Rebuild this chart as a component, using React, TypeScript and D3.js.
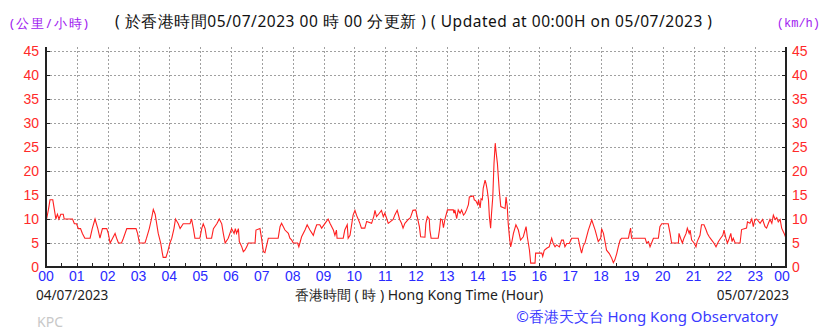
import React, { useEffect, useRef } from "react";
import * as d3 from "d3";

const hours: number[] = [
  0, 0.02, 0.08, 0.13, 0.22, 0.27, 0.32, 0.37, 0.42, 0.48, 0.56, 0.59, 0.86, 0.92, 0.99, 1.05, 1.12, 1.18, 1.26, 1.43,
  1.5, 1.59, 1.68, 1.75, 1.83, 1.97, 2.02, 2.08, 2.16, 2.24, 2.29, 2.35, 2.45, 2.51, 2.62, 2.92, 2.97, 3.03, 3.21, 3.26,
  3.35, 3.42, 3.48, 3.54, 3.64, 3.72, 3.77, 3.8, 3.89, 3.94, 4.02, 4.08, 4.15, 4.2, 4.29, 4.35, 4.45, 4.67, 4.72, 4.78,
  4.83, 4.99, 5.05, 5.1, 5.16, 5.21, 5.37, 5.43, 5.54, 5.62, 5.7, 5.75, 5.81, 5.91, 6.02, 6.1, 6.14, 6.18, 6.24, 6.27,
  6.35, 6.4, 6.45, 6.51, 6.56, 6.78, 6.81, 6.94, 6.99, 7.05, 7.1, 7.16, 7.21, 7.53, 7.59, 7.64, 7.75, 7.86, 7.91, 7.97,
  8.02, 8.16, 8.2, 8.29, 8.4, 8.47, 8.56, 8.67, 8.72, 8.78, 8.88, 8.94, 9.05, 9.15, 9.21, 9.32, 9.37, 9.42, 9.44, 9.64,
  9.69, 9.77, 9.8, 9.86, 9.96, 10.02, 10.07, 10.13, 10.18, 10.23, 10.34, 10.4, 10.56, 10.63, 10.67, 10.72, 10.81, 10.88, 10.94, 10.99,
  11.04, 11.1, 11.26, 11.31, 11.39, 11.47, 11.53, 11.58, 11.64, 11.75, 11.82, 11.9, 11.99, 12.11, 12.15, 12.29, 12.32, 12.37, 12.43, 12.45,
  12.49, 12.72, 12.76, 12.8, 12.85, 12.89, 12.94, 13.02, 13.21, 13.23, 13.26, 13.32, 13.37, 13.43, 13.48, 13.54, 13.59, 13.64, 13.7, 13.73,
  13.86, 13.89, 13.94, 14.0, 14.03, 14.08, 14.11, 14.15, 14.18, 14.24, 14.27, 14.31, 14.35, 14.38, 14.42, 14.45, 14.49, 14.53, 14.57, 14.59,
  14.64, 14.67, 14.7, 14.75, 14.89, 14.92, 14.96, 14.99, 15.03, 15.07, 15.11, 15.16, 15.24, 15.32, 15.39, 15.48, 15.57, 15.61, 15.68, 15.72,
  15.86, 15.88, 16.08, 16.11, 16.16, 16.24, 16.32, 16.4, 16.45, 16.51, 16.56, 16.65, 16.72, 16.78, 16.83, 16.89, 16.97, 17.05, 17.26, 17.32,
  17.37, 17.43, 17.48, 17.59, 17.7, 17.81, 17.91, 17.99, 18.02, 18.08, 18.13, 18.18, 18.27, 18.35, 18.4, 18.45, 18.51, 18.56, 18.62, 18.67,
  18.89, 18.92, 18.96, 18.99, 19.43, 19.48, 19.54, 19.59, 19.64, 19.7, 19.86, 19.91, 19.97, 20.18, 20.24, 20.29, 20.51, 20.53, 20.58, 20.64,
  20.69, 20.76, 20.8, 20.86, 20.89, 20.94, 21.02, 21.08, 21.12, 21.21, 21.26, 21.34, 21.41, 21.45, 21.51, 21.59, 21.66, 21.73, 21.81, 21.88,
  21.95, 21.99, 22.05, 22.1, 22.16, 22.21, 22.25, 22.29, 22.35, 22.51, 22.56, 22.72, 22.75, 22.83, 22.89, 22.94, 22.99, 23.05, 23.16, 23.24,
  23.32, 23.37, 23.43, 23.48, 23.54, 23.59, 23.65, 23.7, 23.75, 23.81, 23.86, 23.94, 24.0,
];

const speeds: number[] = [
  9.5, 10, 12, 14, 14, 12, 10, 11, 10, 11, 11, 10, 10, 9, 9, 8, 8, 7, 6, 6,
  8, 10, 8, 6, 8, 8, 7, 5, 6, 7, 6, 5, 5, 6, 8, 8, 7, 5, 5, 6,
  8, 10, 12, 11, 7, 5, 3, 2, 2, 3, 5, 6, 8, 10, 9, 8, 9, 9, 10, 8,
  6, 6, 8, 9, 8, 6, 6, 8, 9, 10, 9, 7, 5, 6, 8, 7, 8, 7, 8, 5.3,
  4.2, 3.2, 3.5, 4.2, 5, 5, 7.7, 8, 6, 3.2, 3, 4.6, 6, 6, 8.4, 9.1, 7.7, 7, 6, 5.6,
  5, 5, 4.2, 6.3, 7.7, 8.8, 7.7, 6.6, 7.7, 8.8, 8.8, 8.1, 9.1, 10, 9.1, 7.7, 6.6, 7.7, 6, 6,
  7.7, 8.8, 6, 6.6, 10.8, 11.8, 10.8, 9.9, 9.1, 8.1, 8.1, 9.5, 9.1, 10.5, 11.8, 10.5, 11.2, 11.8, 10.5, 11.2,
  10.3, 9.1, 9.9, 10.8, 11.8, 9.9, 9.1, 8.1, 9.1, 9.9, 10.3, 11.8, 11.9, 8.4, 6.3, 6.2, 9.1, 10.5, 10, 7.7,
  6, 6, 7.7, 10, 9.8, 8.2, 10, 11.9, 11.9, 11.2, 11.9, 10.1, 11.9, 11.2, 11.9, 10.8, 11.2, 11.9, 13, 14.6,
  14.8, 14, 13.8, 13, 14, 12.3, 14.2, 14, 16.4, 18.1, 17.4, 16, 14, 10.5, 8.1, 11.2, 14.6, 21.6, 25.8, 24.4,
  21.6, 18.8, 16, 12.6, 12.2, 14.6, 12.6, 9.1, 6.3, 4.2, 5.3, 7, 8.8, 7.7, 5.6, 6.3, 8.4, 6.3, 3.5, 0.8,
  0.8, 2.9, 2.9, 2.2, 3.5, 3.9, 4.2, 6, 4.9, 4.2, 4.6, 4.2, 5.6, 5.6, 4.2, 4.9, 4.9, 6, 6, 4.2,
  2.9, 4.5, 5, 7.7, 9.8, 7.7, 5.3, 6, 8, 7, 5.3, 3.5, 2.8, 1.8, 0.9, 1.5, 2.8, 4.2, 5.6, 6,
  6, 7, 8.1, 6, 6, 5, 5.3, 4.2, 5, 6, 6, 8.4, 9, 9, 7, 5, 5, 7, 6, 5,
  6, 7, 8.1, 7, 7.7, 5.6, 5, 4.2, 5.3, 6.6, 8.8, 8.8, 7.7, 7, 6.3, 5.6, 5, 4.2, 5.3, 6,
  6.6, 7.7, 6, 5, 6, 7, 5.3, 6, 5, 5, 7.8, 8.1, 9.4, 9.1, 10, 8.4, 9.9, 10, 9.1, 9.9,
  8.4, 8.1, 9.1, 9.9, 9.1, 10.8, 9.9, 10.3, 9.4, 9.9, 8.1, 7, 6,
];

const hourTickLabels: string[] = [
  "00", "01", "02", "03", "04", "05", "06", "07", "08", "09", "10", "11", "12",
  "13", "14", "15", "16", "17", "18", "19", "20", "21", "22", "23", "00",
];
const yTicks: number[] = [0, 5, 10, 15, 20, 25, 30, 35, 40, 45];

const titleText = "( 於香港時間05/07/2023 00 時 00 分更新 ) ( Updated at 00:00H on 05/07/2023 )";
const unitLeft = "(公里/小時)";
const unitRight = "(km/h)";
const startDate = "04/07/2023";
const endDate = "05/07/2023";
const xAxisTitle = "香港時間 ( 時 ) Hong Kong Time (Hour)";
const stationCode = "KPC";
const copyright = "©香港天文台 Hong Kong Observatory";

const W = 838;
const H = 331;
const M = { left: 46, right: 786, top: 51, bottom: 267 };

export default function App() {
  const ref = useRef<SVGSVGElement | null>(null);

  useEffect(() => {
    const svg = d3.select(ref.current);
    svg.selectAll("*").remove();

    const x = d3.scaleLinear().domain([0, 24]).range([M.left, M.right]);
    const y = d3.scaleLinear().domain([0, 45]).range([M.bottom, M.top]);
    const sans = "'Noto Sans', 'Open Sans', sans-serif";
    const axisFont = "'Liberation Sans', Arial, sans-serif";

    svg.append("rect").attr("width", W).attr("height", H).attr("fill", "#fff");

    // grid
    const grid = svg.append("g").attr("stroke", "#a0a0a0").attr("stroke-width", 1).attr("stroke-dasharray", "2,2");
    yTicks.filter((t) => t > 0).forEach((t) => {
      grid.append("line").attr("x1", M.left).attr("x2", M.right)
        .attr("y1", Math.round(y(t)) + 0.5).attr("y2", Math.round(y(t)) + 0.5);
    });
    d3.range(1, 24).forEach((h) => {
      grid.append("line").attr("x1", Math.round(x(h)) + 0.5).attr("x2", Math.round(x(h)) + 0.5)
        .attr("y1", M.top - 4).attr("y2", M.bottom);
    });

    // data line
    const pts: [number, number][] = hours.map((h, i) => [h, speeds[i]]);
    const line = d3.line<[number, number]>().x((d) => x(d[0])).y((d) => y(d[1]));
    svg.append("path").attr("d", line(pts)).attr("fill", "none").attr("stroke", "#ff2020").attr("stroke-width", 1.1);

    // axes
    const ax = svg.append("g").attr("stroke", "#222");
    ax.append("line").attr("x1", M.left).attr("x2", M.left).attr("y1", M.top - 4).attr("y2", M.bottom + 1).attr("stroke-width", 2);
    ax.append("line").attr("x1", M.right).attr("x2", M.right).attr("y1", M.top - 4).attr("y2", M.bottom + 1).attr("stroke-width", 2);
    ax.append("line").attr("x1", M.left).attr("x2", M.right).attr("y1", M.bottom).attr("y2", M.bottom).attr("stroke-width", 2);
    yTicks.forEach((t) => {
      const yy = Math.round(y(t)) + 0.5;
      ax.append("line").attr("x1", M.left).attr("x2", M.left + 4).attr("y1", yy).attr("y2", yy);
      ax.append("line").attr("x1", M.right - 4).attr("x2", M.right).attr("y1", yy).attr("y2", yy);
    });
    d3.range(0, 24.01, 0.5).forEach((h) => {
      const xx = Math.round(x(h)) + 0.5;
      ax.append("line").attr("x1", xx).attr("x2", xx).attr("y1", M.bottom).attr("y2", M.bottom - 4);
    });

    // y labels
    yTicks.forEach((t) => {
      svg.append("text").attr("x", 39).attr("y", y(t)).attr("dy", "0.35em").attr("text-anchor", "end")
        .attr("fill", "#ff2a2a").attr("font-family", axisFont).attr("font-size", 14).text(String(t));
      svg.append("text").attr("x", 792).attr("y", y(t)).attr("dy", "0.35em").attr("text-anchor", "start")
        .attr("fill", "#ff2a2a").attr("font-family", axisFont).attr("font-size", 14).text(String(t));
    });

    // x labels
    hourTickLabels.forEach((lab, i) => {
      svg.append("text").attr("x", i === 24 ? x(i) - 4 : x(i)).attr("y", 276).attr("dy", "0.35em").attr("text-anchor", "middle")
        .attr("fill", "#2a2aff").attr("font-family", axisFont).attr("font-size", 14).text(lab);
    });

    // texts
    svg.append("text").attr("x", 115).attr("y", 22).attr("dy", "0.35em").attr("text-anchor", "start")
      .attr("textLength", 597).attr("lengthAdjust", "spacing")
      .attr("fill", "#111").attr("font-family", sans).attr("font-size", 15.5).text(titleText);
    svg.append("text").attr("x", 10).attr("y", 23).attr("dy", "0.35em").attr("text-anchor", "start")
      .attr("textLength", 78).attr("lengthAdjust", "spacing")
      .attr("fill", "#a020f0").attr("font-family", sans).attr("font-size", 13).text(unitLeft);
    svg.append("text").attr("x", 820).attr("y", 23).attr("dy", "0.35em").attr("text-anchor", "end")
      .attr("fill", "#a020f0").attr("font-family", "'Liberation Mono', 'DejaVu Sans Mono', monospace").attr("font-size", 12).text(unitRight);
    svg.append("text").attr("x", 36).attr("y", 295).attr("dy", "0.35em").attr("text-anchor", "start")
      .attr("fill", "#222").attr("font-family", sans).attr("font-size", 13.6).text(startDate);
    svg.append("text").attr("x", 789).attr("y", 295).attr("dy", "0.35em").attr("text-anchor", "end")
      .attr("fill", "#222").attr("font-family", sans).attr("font-size", 13.6).text(endDate);
    svg.append("text").attr("x", 419).attr("y", 295).attr("dy", "0.35em").attr("text-anchor", "middle")
      .attr("fill", "#222").attr("font-family", sans).attr("font-size", 14).text(xAxisTitle);
    svg.append("text").attr("x", 37).attr("y", 322).attr("dy", "0.35em").attr("text-anchor", "start")
      .attr("fill", "#c8c8c8").attr("font-family", sans).attr("font-size", 14).text(stationCode);
    svg.append("text").attr("x", 778).attr("y", 317).attr("dy", "0.35em").attr("text-anchor", "end")
      .attr("fill", "#3a3aff").attr("font-family", sans).attr("font-size", 15).text(copyright);
  }, []);

  return (
    <svg ref={ref} width={W} height={H} style={{ position: "absolute", left: 0, top: 0, display: "block" }} />
  );
}
